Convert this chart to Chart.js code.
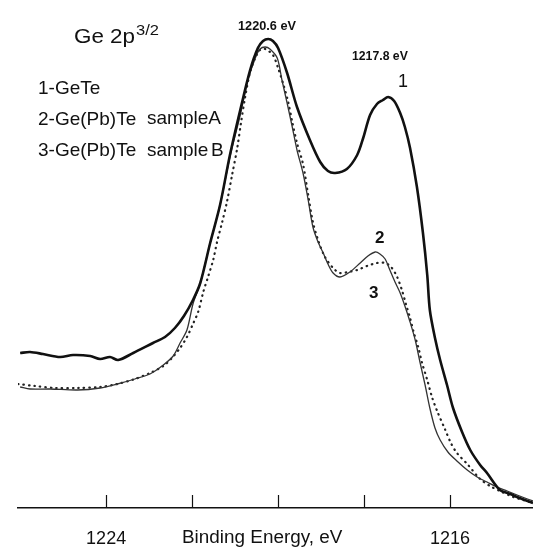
<!DOCTYPE html>
<html lang="en">
<head>
<meta charset="UTF-8">
<title>Ge 2p3/2 | Binding Energy</title>
<script src="https://cdn.jsdelivr.net/npm/chart.js"></script>
<style>
    body { margin: 0; background: #fff; }
    #grafico { display: block; }
</style>
</head>
<body>
<canvas id="grafico" width="533" height="548"></canvas>

<script>
    // binding energy (eV) / intensity (arb. units)
    // 1 - GeTe
    const energia1 = [1226.00, 1225.77, 1225.47, 1225.07, 1224.77, 1224.37, 1224.14, 1223.91, 1223.72, 1223.37,
        1222.91, 1222.63, 1222.40, 1222.19, 1221.98, 1221.81, 1221.58, 1221.35, 1221.12, 1220.88,
        1220.65, 1220.47, 1220.35, 1220.23, 1220.12, 1220.00, 1219.79, 1219.56, 1219.26, 1219.02,
        1218.84, 1218.67, 1218.40, 1218.16, 1218.02, 1217.86, 1217.70, 1217.56, 1217.44, 1217.30,
        1217.16, 1217.05, 1216.93, 1216.77, 1216.63, 1216.53, 1216.47, 1216.35, 1216.23, 1216.07,
        1215.93, 1215.72, 1215.53, 1215.30, 1215.14, 1214.84, 1214.60, 1214.44, 1214.26, 1214.07];
    const intensidade1 = [155, 156, 154, 151, 153, 152, 149, 151, 148, 155,
        165, 171, 180, 192, 208, 225, 265, 303, 353, 398,
        438, 460, 467, 469, 467, 460, 435, 401, 368, 346,
        337, 335, 339, 353, 370, 393, 404, 408, 411, 407,
        395, 381, 360, 321, 275, 233, 198, 170, 148, 123,
        100, 76, 58, 43, 35, 18, 14, 11, 8, 5];

    // 2 - Ge(Pb)Te sample A
    const energia2 = [1226.00, 1225.77, 1225.30, 1224.67, 1224.14, 1223.74, 1223.33, 1222.98, 1222.67, 1222.44,
        1222.28, 1222.12, 1221.98, 1221.81, 1221.58, 1221.35, 1221.12, 1220.88, 1220.70, 1220.53,
        1220.42, 1220.30, 1220.19, 1220.02, 1219.91, 1219.79, 1219.67, 1219.56, 1219.42, 1219.30,
        1219.19, 1219.07, 1218.95, 1218.84, 1218.72, 1218.56, 1218.33, 1218.09, 1217.91, 1217.74,
        1217.63, 1217.51, 1217.40, 1217.28, 1217.16, 1217.05, 1216.93, 1216.81, 1216.70, 1216.58,
        1216.47, 1216.35, 1216.23, 1216.05, 1215.84, 1215.60, 1215.37, 1215.14, 1214.91, 1214.67,
        1214.44, 1214.26, 1214.07];
    const intensidade2 = [121, 119, 119, 118, 120, 124, 129, 134, 143, 152,
        165, 178, 204, 225, 265, 303, 351, 393, 428, 450,
        459, 461, 459, 450, 428, 405, 381, 358, 335, 308,
        281, 266, 255, 244, 235, 231, 236, 245, 252, 256,
        254, 249, 238, 226, 215, 202, 186, 168, 146, 123,
        100, 80, 68, 56, 47, 38, 31, 26, 21, 17,
        13, 10, 7];

    // 3 - Ge(Pb)Te sample B
    const energia3 = [1226.05, 1225.65, 1225.19, 1224.67, 1224.14, 1223.74, 1223.33, 1222.98, 1222.67, 1222.47,
        1222.28, 1222.12, 1221.98, 1221.86, 1221.74, 1221.63, 1221.51, 1221.42, 1221.30, 1221.19,
        1221.07, 1220.95, 1220.86, 1220.77, 1220.65, 1220.53, 1220.42, 1220.30, 1220.12, 1220.00,
        1219.88, 1219.77, 1219.67, 1219.56, 1219.42, 1219.30, 1219.19, 1219.07, 1218.91, 1218.72,
        1218.56, 1218.37, 1218.16, 1217.93, 1217.70, 1217.51, 1217.37, 1217.23, 1217.12, 1217.02,
        1216.93, 1216.84, 1216.74, 1216.65, 1216.53, 1216.42, 1216.30, 1216.12, 1215.98, 1215.84,
        1215.60, 1215.30, 1215.07, 1214.84, 1214.53, 1214.30, 1214.07];
    const intensidade3 = [124, 122, 120, 120, 121, 124, 129, 135, 142, 150,
        160, 171, 184, 196, 216, 231, 248, 266, 286, 306,
        333, 360, 386, 410, 436, 450, 458, 459, 453, 440,
        424, 407, 386, 365, 344, 313, 286, 268, 251, 240,
        235, 236, 238, 242, 245, 245, 241, 231, 218, 203,
        190, 175, 161, 145, 128, 111, 97, 79, 65, 55,
        44, 29, 22, 17, 11, 8, 5];

    // axis
    const marcasX = [1216, 1218, 1220, 1222, 1224];
    const rotulosX = [1216, 1224];

    const fonte = '"Liberation Sans", Arial, sans-serif';

    function pontos(xs, ys) {
        return xs.map((x, i) => ({ x: x, y: ys[i] }));
    }

    // the scanned lettering is a bit wider than Arial, so stretch it slightly
    function escrever(ctx, s, x, y, font, sx) {
        ctx.save();
        ctx.font = font;
        ctx.translate(x, y);
        ctx.scale(sx || 1, 1);
        ctx.fillText(s, 0, 0);
        ctx.restore();
    }

    // white background, upward tick marks, and all the text on the plot
    const anotacoes = {
        id: 'anotacoes',
        beforeDraw(chart) {
            const ctx = chart.ctx;
            ctx.save();
            ctx.fillStyle = '#fff';
            ctx.fillRect(0, 0, chart.width, chart.height);
            ctx.restore();
        },
        afterDraw(chart) {
            const ctx = chart.ctx;
            const escalaX = chart.scales.x;
            ctx.save();

            ctx.strokeStyle = '#111';
            ctx.lineWidth = 1.2;
            marcasX.forEach(v => {
                const px = Math.round(escalaX.getPixelForValue(v)) + 0.5;
                ctx.beginPath();
                ctx.moveTo(px, escalaX.top);
                ctx.lineTo(px, escalaX.top - 13);
                ctx.stroke();
            });

            ctx.fillStyle = '#111';
            ctx.textBaseline = 'alphabetic';
            ctx.textAlign = 'left';

            escrever(ctx, 'Ge 2p', 74, 43, '20px ' + fonte, 1.12);
            escrever(ctx, '3/2', 136, 35, '15px ' + fonte, 1.1);

            escrever(ctx, '1-GeTe', 38, 94, '19px ' + fonte);
            escrever(ctx, '2-Ge(Pb)Te', 38, 125, '19px ' + fonte);
            escrever(ctx, 'sampleA', 147, 124, '19px ' + fonte);
            escrever(ctx, '3-Ge(Pb)Te', 38, 156, '19px ' + fonte);
            escrever(ctx, 'sample', 147, 156, '19px ' + fonte);
            escrever(ctx, 'B', 211, 156, '19px ' + fonte);

            escrever(ctx, '1220.6 eV', 238, 30, 'bold 12px ' + fonte, 1.06);
            escrever(ctx, '1217.8 eV', 352, 60, 'bold 12px ' + fonte, 1.02);

            escrever(ctx, '1', 398, 87, '18px ' + fonte);
            escrever(ctx, '2', 375, 243, 'bold 17px ' + fonte);
            escrever(ctx, '3', 369, 298, 'bold 17px ' + fonte);

            escrever(ctx, 'Binding Energy, eV', 182, 543, '18px ' + fonte, 1.05);

            ctx.restore();
        }
    };

    const grafico = new Chart(document.getElementById('grafico'), {
        type: 'line',
        data: {
            datasets: [
                {
                    label: '1-GeTe',
                    data: pontos(energia1, intensidade1),
                    borderColor: '#111',
                    borderWidth: 2.6,
                    pointRadius: 0,
                    tension: 0.3
                },
                {
                    label: '2-Ge(Pb)Te sampleA',
                    data: pontos(energia2, intensidade2),
                    borderColor: '#333',
                    borderWidth: 1.3,
                    pointRadius: 0,
                    tension: 0.3
                },
                {
                    label: '3-Ge(Pb)Te sample B',
                    data: pontos(energia3, intensidade3),
                    borderColor: '#222',
                    borderWidth: 2.2,
                    borderDash: [0.5, 5],
                    borderCapStyle: 'round',
                    pointRadius: 0,
                    tension: 0.3
                }
            ]
        },
        options: {
            responsive: false,
            devicePixelRatio: 1,
            animation: false,
            layout: { padding: { left: 18, right: 0, top: 0, bottom: 0 } },
            plugins: {
                legend: { display: false },
                tooltip: { enabled: false }
            },
            scales: {
                x: {
                    type: 'linear',
                    reverse: true,
                    min: 1214.07,
                    max: 1226.05,
                    afterBuildTicks: escala => {
                        escala.ticks = marcasX.map(v => ({ value: v }));
                    },
                    afterFit: escala => {
                        escala.height = 40;
                    },
                    grid: { display: false, drawTicks: false },
                    border: { display: true, color: '#111', width: 1.5 },
                    ticks: {
                        autoSkip: false,
                        maxRotation: 0,
                        padding: 20,
                        color: '#111',
                        font: { family: fonte, size: 18 },
                        callback: v => rotulosX.includes(v) ? String(v) : ''
                    }
                },
                y: {
                    display: false,
                    min: 0,
                    max: 508
                }
            }
        },
        plugins: [anotacoes]
    });
</script>
</body>
</html>
